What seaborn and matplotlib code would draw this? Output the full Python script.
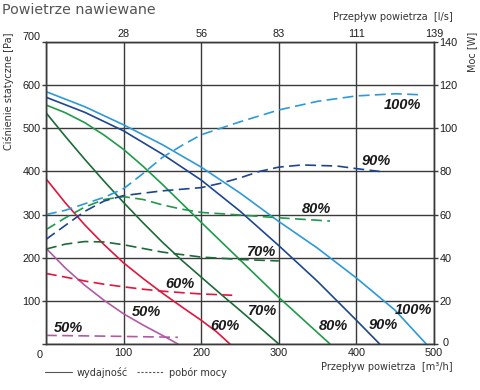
import matplotlib
matplotlib.use("Agg")
import matplotlib.pyplot as plt
import matplotlib.transforms as mtransforms
from matplotlib.lines import Line2D
import pandas as pd
import seaborn as sns

# fan speeds
speeds = ["50%", "60%", "70%", "80%", "90%", "100%"]

# performance curves: air flow [m3/h] -> static pressure [Pa]
flow_50 = [0, 25, 50, 75, 100, 125, 150, 170]
pa_50 = [222, 176, 136, 101, 70, 44, 20, 0]
flow_60 = [0, 25, 50, 75, 100, 125, 150, 175, 200, 220, 237]
pa_60 = [383, 327, 276, 230, 188, 152, 118, 86, 55, 28, 0]
flow_70 = [0, 25, 50, 75, 100, 125, 150, 175, 200, 225, 250, 275, 300]
pa_70 = [536, 481, 428, 377, 328, 281, 236, 194, 155, 116, 78, 39, 0]
flow_80 = [0, 25, 50, 75, 100, 125, 150, 175, 200, 250, 300, 333, 366]
pa_80 = [554, 536, 513, 484, 451, 412, 370, 326, 282, 195, 108, 54, 0]
flow_90 = [0, 50, 100, 150, 200, 250, 300, 350, 400, 430]
pa_90 = [572, 537, 494, 440, 380, 308, 228, 145, 55, 0]
flow_100 = [0, 50, 100, 150, 200, 250, 300, 350, 400, 450, 490]
pa_100 = [585, 550, 508, 462, 410, 350, 284, 222, 153, 78, 0]

# power curves: air flow [m3/h] -> power [W]
pflow_50 = [0, 85, 170]
watt_50 = [4.0, 3.6, 3.1]
pflow_60 = [0, 25, 50, 75, 100, 125, 150, 175, 200, 240]
watt_60 = [32.7, 31.0, 29.2, 27.7, 26.5, 25.4, 24.5, 23.8, 23.2, 22.6]
pflow_70 = [0, 25, 50, 75, 100, 125, 150, 200, 250, 300]
watt_70 = [44.0, 46.3, 47.5, 47.3, 46.0, 44.3, 42.6, 40.3, 39.2, 38.5]
pflow_80 = [0, 25, 50, 75, 100, 125, 150, 175, 200, 250, 300, 366]
watt_80 = [53.0, 58.5, 63.5, 67.0, 68.3, 67.0, 64.5, 62.5, 61.0, 59.8, 58.5, 57.0]
pflow_90 = [0, 25, 50, 75, 100, 150, 200, 225, 250, 275, 300, 330, 375, 400, 430]
watt_90 = [48.5, 55.0, 61.5, 66.3, 68.8, 71.0, 72.5, 74.5, 77.0, 80.0, 82.0, 83.0, 82.5, 81.3, 80.0]
pflow_100 = [0, 25, 50, 75, 100, 125, 150, 175, 200, 250, 300, 350, 400, 450, 486]
watt_100 = [60, 62, 65, 68, 72, 79, 86.5, 92, 97, 103, 108.5, 112.5, 115, 116, 115.5]

# axis ticks
flow_ticks = [0, 100, 200, 300, 400, 500]
pa_ticks = [0, 100, 200, 300, 400, 500, 600, 700]
watt_ticks = [0, 20, 40, 60, 80, 100, 120, 140]
ls_labels = ["28", "56", "83", "111", "139"]

colors = {"100%": "#2c9ad8", "90%": "#1d4592", "80%": "#1f9a4b",
          "70%": "#1c6b37", "60%": "#e2153c", "50%": "#b05aa6"}

perf = pd.concat([
    pd.DataFrame({"flow": f, "pa": p, "speed": s})
    for s, f, p in zip(speeds,
                       [flow_50, flow_60, flow_70, flow_80, flow_90, flow_100],
                       [pa_50, pa_60, pa_70, pa_80, pa_90, pa_100])
])
power = pd.concat([
    pd.DataFrame({"flow": f, "watt": w, "speed": s})
    for s, f, w in zip(speeds,
                       [pflow_50, pflow_60, pflow_70, pflow_80, pflow_90, pflow_100],
                       [watt_50, watt_60, watt_70, watt_80, watt_90, watt_100])
])

sns.set_style("white")
plt.rcParams["font.family"] = ["Liberation Sans", "DejaVu Sans"]

grid_c = "#3a3a3a"
fig = plt.figure(figsize=(4.8, 3.9), dpi=100)
ax = fig.add_axes([46 / 480, 1 - 344 / 390, 388 / 480, 302 / 390])
ax2 = ax.twinx()

sns.lineplot(data=perf, x="flow", y="pa", hue="speed", palette=colors,
             sort=False, estimator=None, legend=False, linewidth=1.2, ax=ax)
sns.lineplot(data=power, x="flow", y="watt", hue="speed", palette=colors,
             sort=False, estimator=None, legend=False, linewidth=1.2, ax=ax2)
for ln in ax2.lines:
    ln.set_linestyle((0, (6.5, 3.2)))

ax.set_xlim(0, 500)
ax.set_ylim(0, 700)
ax2.set_ylim(0, 140)
ax.set_xticks(flow_ticks)
ax.set_xticklabels([""] + [str(t) for t in flow_ticks[1:]])
ax.set_yticks(pa_ticks)
ax.set_yticklabels([""] + [str(t) for t in pa_ticks[1:]])
ax2.set_yticks(watt_ticks)
ax.grid(True, color=grid_c, linewidth=1.0)
ax.set_xlabel("")
ax.set_ylabel("")
ax2.set_ylabel("")
for a in (ax, ax2):
    for sp in a.spines.values():
        sp.set_color(grid_c)
        sp.set_linewidth(1.0)
ax.tick_params(axis="x", length=0, pad=3, labelsize=7.8, colors="#1e1e1e")
ax.tick_params(axis="y", length=3, width=1, color=grid_c, pad=1, labelsize=7.8,
               labelcolor="#1e1e1e")
ax2.tick_params(axis="y", length=3, width=1, color=grid_c, pad=1, labelsize=7.8,
                labelcolor="#1e1e1e")

# raise the "700" label a bit, as in the reference
lab700 = ax.get_yticklabels()[-1]
lab700.set_transform(lab700.get_transform()
                     + mtransforms.ScaledTranslation(0, 6 / 100, fig.dpi_scale_trans))
# nudge the right-hand "0" so it sits beside "500"
lab0 = ax2.get_yticklabels()[0]
lab0.set_transform(lab0.get_transform()
                   + mtransforms.ScaledTranslation(3 / 100, 2 / 100, fig.dpi_scale_trans))
ax.annotate("0", xy=(0, 0), xytext=(-4.5, -8), textcoords="offset points",
            ha="center", va="center", fontsize=7.8, color="#1e1e1e")

top = ax.secondary_xaxis("top")
top.set_xticks(flow_ticks[1:])
top.set_xticklabels(ls_labels)
top.tick_params(length=0, pad=2, labelsize=7.8, colors="#1e1e1e")
top.spines["top"].set_visible(False)

# speed labels (flow, pressure) at the curves
solid_pos = {"50%": (129, 75), "60%": (230, 42), "70%": (279, 77),
             "80%": (370, 42), "90%": (435, 43), "100%": (474, 79)}
dash_pos = {"50%": (29, 36), "60%": (172, 139), "70%": (278, 213),
            "80%": (348, 314), "90%": (426, 425), "100%": (459, 553)}
for s in speeds:
    for pos in (solid_pos[s], dash_pos[s]):
        ax.text(pos[0], pos[1], s, ha="center", va="center", fontsize=10.5,
                fontweight="bold", fontstyle="italic", color="#1a1a1a", zorder=5)

lab_c = "#333333"
fig.text(2 / 480, 1 - 10 / 390, "Powietrze nawiewane", family="DejaVu Sans",
         fontsize=10.3, color="#555555", ha="left", va="center")
fig.text(453 / 480, 1 - 17 / 390, "Przepływ powietrza  [l/s]", family="DejaVu Sans",
         fontsize=7, color=lab_c, ha="right", va="center")
fig.text(453 / 480, 1 - 367 / 390, "Przepływ powietrza  [m³/h]", family="DejaVu Sans",
         fontsize=7, color=lab_c, ha="right", va="center")
fig.text(9 / 480, 1 - 32 / 390, "Ciśnienie statyczne [Pa]", family="DejaVu Sans",
         fontsize=7, color=lab_c, rotation=90, ha="center", va="top")
fig.text(472 / 480, 1 - 32 / 390, "Moc [W]", family="DejaVu Sans",
         fontsize=7, color=lab_c, rotation=90, ha="center", va="top")

handles = [Line2D([], [], color="#555555", lw=0.8),
           Line2D([], [], color="#555555", lw=0.8, linestyle=(0, (2, 1.5)))]
fig.legend(handles, ["wydajność", "pobór mocy"], loc="center left",
           bbox_to_anchor=(36 / 480, 1 - 372 / 390), ncol=2, frameon=False,
           handlelength=2.8, handletextpad=0.5, columnspacing=0.9,
           prop={"family": "DejaVu Sans", "size": 7}, labelcolor=lab_c)

fig.savefig("out.png", dpi=100)
